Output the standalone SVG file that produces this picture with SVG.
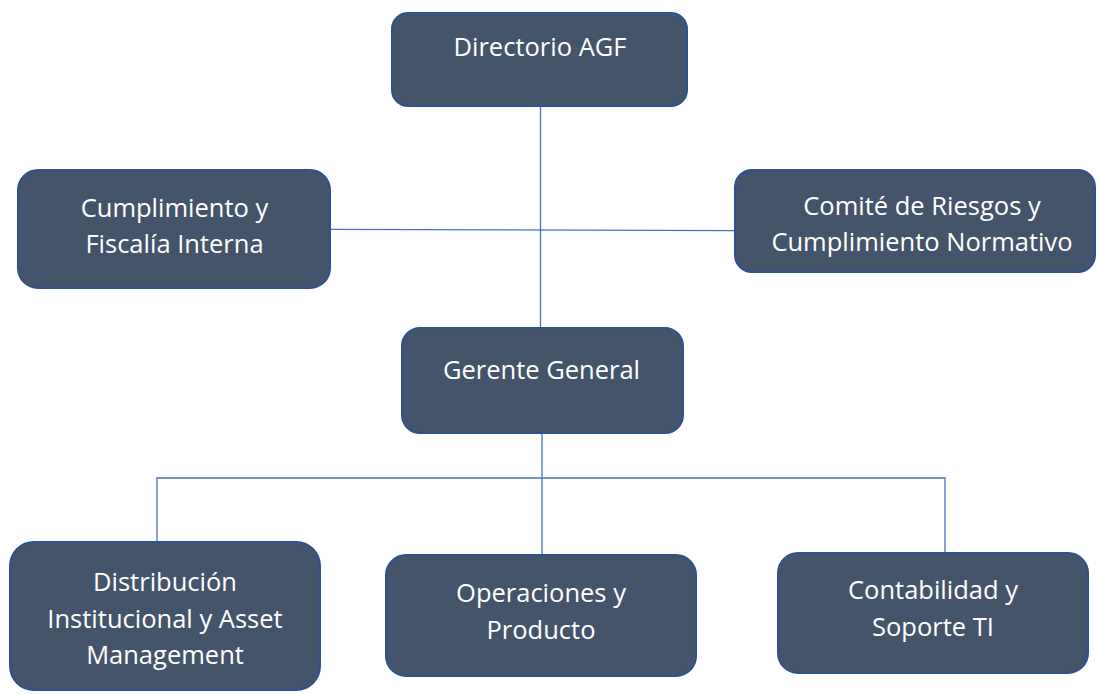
<svg xmlns="http://www.w3.org/2000/svg" width="1098" height="694" viewBox="0 0 1098 694">
<style>
.box{fill:#44546A;stroke:#2F528F;stroke-width:2}
.lbl{font-family:"Open Sans","Liberation Sans",sans-serif;font-size:25.5px;fill:#FFFFFF;text-anchor:middle}
.conn{stroke:#4472C4;stroke-width:1.3;fill:none}
</style>
<rect width="1098" height="694" fill="#FFFFFF"/>
<g id="connectors">
<line class="conn" x1="540.5" y1="106" x2="540.5" y2="328"/>
<line class="conn" x1="330" y1="229.3" x2="735" y2="230.7"/>
<line class="conn" x1="542" y1="433" x2="542" y2="555"/>
<polyline class="conn" points="157,542 157,478 945,478 945,553"/>
</g>
<g id="directorio">
<rect class="box" x="392" y="13" width="295" height="93" rx="16"/>
<text class="lbl" x="540" y="56">Directorio AGF</text>
</g>
<g id="cumplimiento">
<rect class="box" x="18" y="170" width="312" height="118" rx="20"/>
<text class="lbl" x="174.5" y="217">Cumplimiento y</text>
<text class="lbl" x="174.5" y="253">Fiscalía Interna</text>
</g>
<g id="comite">
<rect class="box" x="735" y="170" width="360" height="102" rx="17"/>
<text class="lbl" x="922" y="215">Comité de Riesgos y</text>
<text class="lbl" x="922" y="251">Cumplimiento Normativo</text>
</g>
<g id="gerente">
<rect class="box" x="402" y="328" width="281" height="105" rx="18"/>
<text class="lbl" x="541.5" y="379">Gerente General</text>
</g>
<g id="distribucion">
<rect class="box" x="10" y="542" width="310" height="148" rx="24"/>
<text class="lbl" x="165" y="591">Distribución</text>
<text class="lbl" x="165" y="627.5">Institucional y Asset</text>
<text class="lbl" x="165" y="664">Management</text>
</g>
<g id="operaciones">
<rect class="box" x="386" y="555" width="310" height="121" rx="20"/>
<text class="lbl" x="541" y="602">Operaciones y</text>
<text class="lbl" x="541" y="639">Producto</text>
</g>
<g id="contabilidad">
<rect class="box" x="778" y="553" width="310" height="120" rx="20"/>
<text class="lbl" x="933" y="599">Contabilidad y</text>
<text class="lbl" x="933" y="636">Soporte TI</text>
</g>
</svg>
